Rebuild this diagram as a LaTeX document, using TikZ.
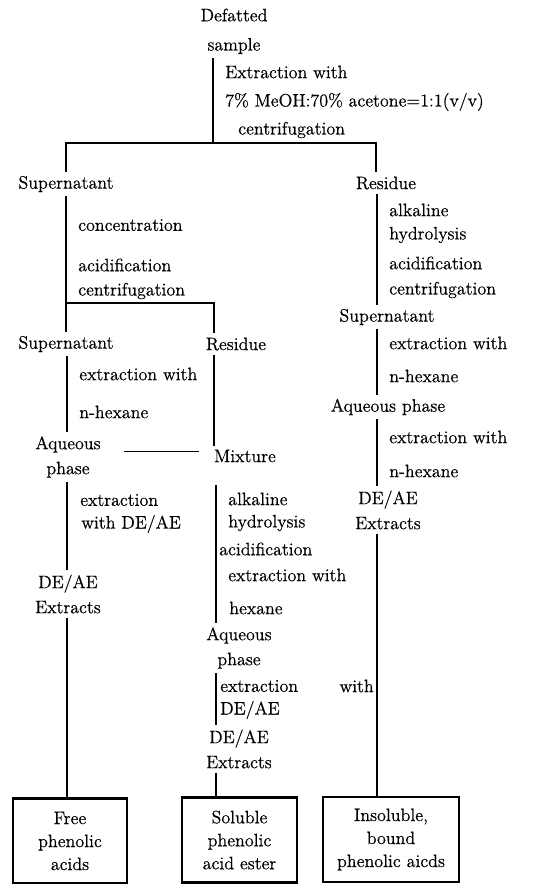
\documentclass[tikz,border=0pt]{standalone}
\usepackage{fontspec}
\setmainfont{Latin Modern Roman}[FakeBold=0.5]

\tikzset{
  stage/.style={inner sep=3pt, align=center, font=\fontsize{13.5}{18.75}\selectfont},
  note/.style={inner sep=0pt, anchor=west, font=\fontsize{13.5}{18.75}\selectfont},
  link/.style={line width=0.8pt},
  result/.style={draw, line width=1.6pt, align=center, minimum height=63.75pt, inner sep=2pt, font=\fontsize{13.5}{17.25}\selectfont},
}

\begin{document}
\begin{tikzpicture}[x=0.75pt, y=-0.75pt]
    \useasboundingbox (0,0) rectangle (547,884);
    \coordinate (colA) at (67,0);
    \coordinate (colB) at (216,0);
    \coordinate (colC) at (377,0);

    % sample and first extraction
    \node[stage] (defatted) at (234,15) {Defatted};
    \node[stage] (sample) at (234,46) {sample};
    \node[note] (extraction) at (225,72) {Extraction with};
    \node[note] (solvent) at (225,102) {7\% MeOH:70\% acetone=1:1(v/v)};
    \node[note] (centri) at (238,130) {centrifugation};
    \coordinate (split) at (213,143);
    \coordinate (resline) at (376,143);
    \draw[link] (sample.south -| split) -- (split);

    % 1st split
    \node[stage] (sup1) at (66,184) {Supernatant};
    \node[stage] (res1) at (386,183) {Residue};
    \draw[link] (sup1.north) |- (resline) -- (resline |- res1.north);

    % left: supernatant
    \node[note] (conc) at (78,225) {concentration};
    \node[note] (acid1) at (78,265) {acidification};
    \node[note] (centri1) at (78,291) {centrifugation};
    \coordinate (split1) at (214,303);
    \node[stage] (sup2) at (66,344) {Supernatant};
    \node[stage] (res2) at (236,344) {Residue};
    \draw[link] (sup1.south) -- (sup2.north);
    \draw[link] (sup1.south |- split1) -- (split1) -- (split1 |- res2.north);

    \node[note] (extr1) at (79,374) {extraction with};
    \node[note] (hex1) at (79,412) {n-hexane};
    \node[stage] (aq1) at (68,457) {Aqueous\\phase};
    \node[stage] (mix) at (245,456) {Mixture};
    \draw[link] (colA |- sup2.south) -- (colA |- aq1.north);
    \draw[link] (split1 |- res2.south) -- (split1 |- mix.north);
    \coordinate (aqmix) at ([shift={(14pt,4pt)}]aq1.east);
    \draw[link, shorten >=8pt] (aqmix) -- (mix.west |- aqmix);

    \node[note] (extr2) at (80,500) {extraction};
    \node[note] (de1) at (81,524) {with DE/AE};
    \node[stage] (ext1) at (68,594) {DE/AE\\Extracts};
    \draw[link] (colA |- aq1.south) -- (colA |- ext1.north);

    % middle: mixture
    \node[note] (alk2) at (228,499) {alkaline};
    \node[note] (hyd2) at (228,523) {hydrolysis};
    \node[note] (acid2) at (219,549) {acidification};
    \node[note] (extr3) at (228,575) {extraction with};
    \node[note] (hex2) at (229,608) {hexane};
    \node[stage] (aq2) at (239,648) {Aqueous\\phase};
    \draw[link, shorten <=14pt] (colB |- mix.south) -- (colB |- aq2.north);
    \node[note] (extr4) at (220,686) {extraction};
    \node[note] (de2) at (220,710) {DE/AE};
    \node[stage] (ext2) at (239,749) {DE/AE\\Extracts};
    \draw[link] (colB |- aq2.south) -- (colB |- ext2.north);

    % right: residue
    \node[note] (alk1) at (389,210) {alkaline};
    \node[note] (hyd1) at (389,235) {hydrolysis};
    \node[note] (acid3) at (389,263) {acidification};
    \node[note] (centri2) at (389,290) {centrifugation};
    \node[stage] (sup3) at (387,317) {Supernatant};
    \draw[link] (colC |- res1.south) -- (colC |- sup3.north);
    \node[note] (extr5) at (389,343) {extraction with};
    \node[note] (hex3) at (389,376) {n-hexane};
    \node[stage] (aq3) at (388,407) {Aqueous phase};
    \draw[link] (colC |- sup3.south) -- (colC |- aq3.north);
    \node[note] (extr6) at (389,437) {extraction with};
    \node[note] (hex4) at (389,471) {n-hexane};
    \node[stage] (ext3) at (388,510) {DE/AE\\Extracts};
    \draw[link] (colC |- aq3.south) -- (colC |- ext3.north);
    \node[note, anchor=east] (with) at (374,686) {with};

    % results
    \node[result, minimum width=85.5pt] (free) at (70,841) {Free\\phenolic\\acids};
    \node[result, minimum width=86pt] (ester) at (239.5,840) {Soluble\\phenolic\\acid ester};
    \node[result, minimum width=102pt] (bound) at (391,839.5) {Insoluble,\\bound\\phenolic aicds};
    \draw[link] (colA |- ext1.south) -- (colA |- free.north);
    \draw[link] (colB |- ext2.south) -- (colB |- ester.north);
    \draw[link] (colC |- ext3.south) -- (colC |- bound.north);

\end{tikzpicture}
\end{document}
